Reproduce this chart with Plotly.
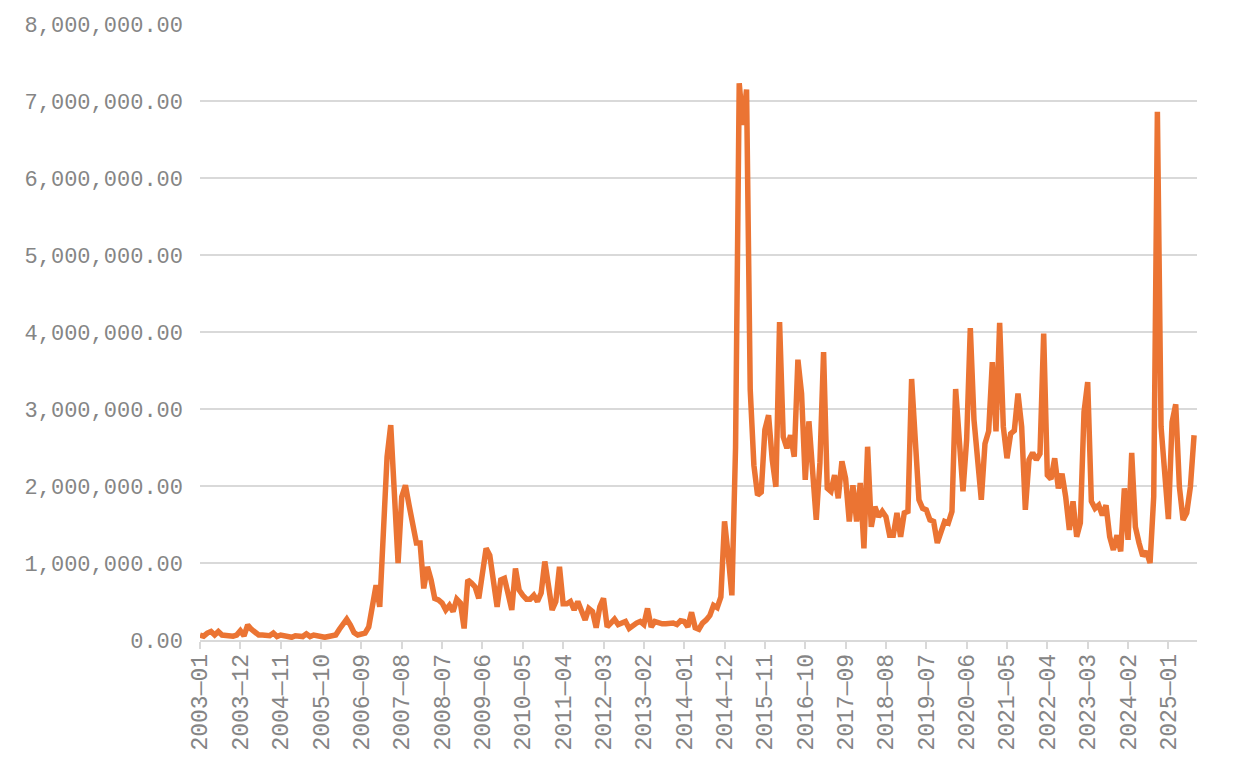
import plotly.graph_objects as go

# Monthly categories 2003-01 .. 2025-08
months = [f"{y}-{m:02d}" for y in range(2003, 2026) for m in range(1, 13)][:272]

# Series values (millions)
values_mn = [
    0.065, 0.05, 0.09, 0.11, 0.065, 0.11, 0.065, 0.055, 0.05, 0.05,
    0.065, 0.12, 0.055, 0.195, 0.14, 0.10, 0.065, 0.065, 0.06, 0.055,
    0.09, 0.045, 0.065, 0.055, 0.045, 0.035, 0.055, 0.05, 0.045, 0.08,
    0.045, 0.065, 0.055, 0.045, 0.035, 0.045, 0.05, 0.065, 0.14, 0.22,
    0.27, 0.195, 0.095, 0.065, 0.07, 0.09, 0.17, 0.40, 0.71, 0.43,
    1.40, 2.38, 2.79, 1.90, 1.00, 1.86, 2.01, 1.75, 1.50, 1.26,
    1.26, 0.67, 0.95, 0.78, 0.54, 0.52, 0.48, 0.39, 0.45, 0.37,
    0.53, 0.48, 0.15, 0.78, 0.74, 0.69, 0.54, 0.85, 1.19, 1.10,
    0.75, 0.43, 0.78, 0.80, 0.60, 0.39, 0.93, 0.65, 0.58, 0.53,
    0.53, 0.58, 0.50, 0.61, 1.02, 0.70, 0.39, 0.50, 0.95, 0.47,
    0.47, 0.50, 0.39, 0.50, 0.40, 0.26, 0.41, 0.37, 0.16, 0.43,
    0.54, 0.17, 0.22, 0.27, 0.20, 0.22, 0.24, 0.15, 0.19, 0.22,
    0.24, 0.20, 0.41, 0.17, 0.24, 0.22, 0.21, 0.21, 0.21, 0.22,
    0.20, 0.25, 0.24, 0.17, 0.36, 0.16, 0.14, 0.22, 0.26, 0.32,
    0.45, 0.42, 0.56, 1.54, 1.10, 0.58, 2.50, 7.23, 6.69, 7.15,
    3.25, 2.27, 1.88, 1.92, 2.73, 2.92, 2.34, 1.99, 4.13, 2.64,
    2.49, 2.66, 2.38, 3.64, 3.20, 2.08, 2.84, 2.30, 1.56, 2.30,
    3.74, 1.97, 1.93, 2.14, 1.84, 2.32, 2.10, 1.54, 2.01, 1.54,
    2.04, 1.19, 2.51, 1.47, 1.73, 1.60, 1.67, 1.60, 1.36, 1.36,
    1.65, 1.34, 1.65, 1.67, 3.39, 2.60, 1.82, 1.71, 1.69, 1.56,
    1.54, 1.26, 1.40, 1.54, 1.52, 1.67, 3.26, 2.60, 1.93, 2.60,
    4.05, 2.86, 2.30, 1.82, 2.55, 2.71, 3.61, 2.71, 4.12, 2.77,
    2.36, 2.68, 2.72, 3.20, 2.77, 1.69, 2.34, 2.43, 2.34, 2.42,
    3.98, 2.14, 2.09, 2.36, 1.97, 2.16, 1.86, 1.43, 1.80, 1.34,
    1.52, 2.96, 3.35, 1.80, 1.71, 1.75, 1.62, 1.75, 1.34, 1.17,
    1.36, 1.15, 1.97, 1.30, 2.43, 1.47, 1.26, 1.09, 1.15, 1.00,
    1.86, 6.86, 2.77, 2.10, 1.57, 2.83, 3.06, 1.99, 1.56, 1.65,
    1.99, 2.66,
]
values = [v * 1_000_000 for v in values_mn]

# Tick labels (every 11 months)
tick_cats = months[::11]
tick_text = [m.replace("-", "\u2014") for m in tick_cats]
y_ticks = [0, 1e6, 2e6, 3e6, 4e6, 5e6, 6e6, 7e6, 8e6]

LINE_COLOR = "#EB7433"
GRID = "#D9D9D9"
TEXT = "#858585"
FONT = "Liberation Mono"

fig = go.Figure()
fig.add_trace(go.Scatter(
    x=months, y=values, mode="lines",
    line=dict(color=LINE_COLOR, width=5.5, shape="linear"),
    hoverinfo="skip",
))

# page body has an 8px margin; size and margins compensate for it
fig.update_layout(
    width=1226, height=764,
    margin=dict(l=192, r=37, t=16, b=132, autoexpand=False),
    paper_bgcolor="white", plot_bgcolor="white",
    showlegend=False,
    font=dict(family=FONT, size=22, color=TEXT),
)
fig.update_xaxes(
    type="category",
    range=[0, 271.8],
    automargin=False,
    tickmode="array", tickvals=tick_cats, ticktext=tick_text,
    tickangle=-90,
    ticks="outside", ticklen=7, tickwidth=1.5, tickcolor=GRID,
    showline=True, linecolor=GRID, linewidth=1.5,
    showgrid=False, zeroline=False,
    ticklabelstandoff=-4,
    tickfont=dict(family=FONT, size=23, color=TEXT),
)
fig.update_yaxes(
    range=[0, 8e6],
    automargin=False,
    tickmode="array", tickvals=y_ticks,
    tickformat=",.2f",
    showgrid=True, gridcolor=GRID, gridwidth=1.5,
    zeroline=False, showline=False,
    ticks="", ticklabelstandoff=16,
    tickfont=dict(family=FONT, size=22, color=TEXT),
)

fig.write_html("out.html")
